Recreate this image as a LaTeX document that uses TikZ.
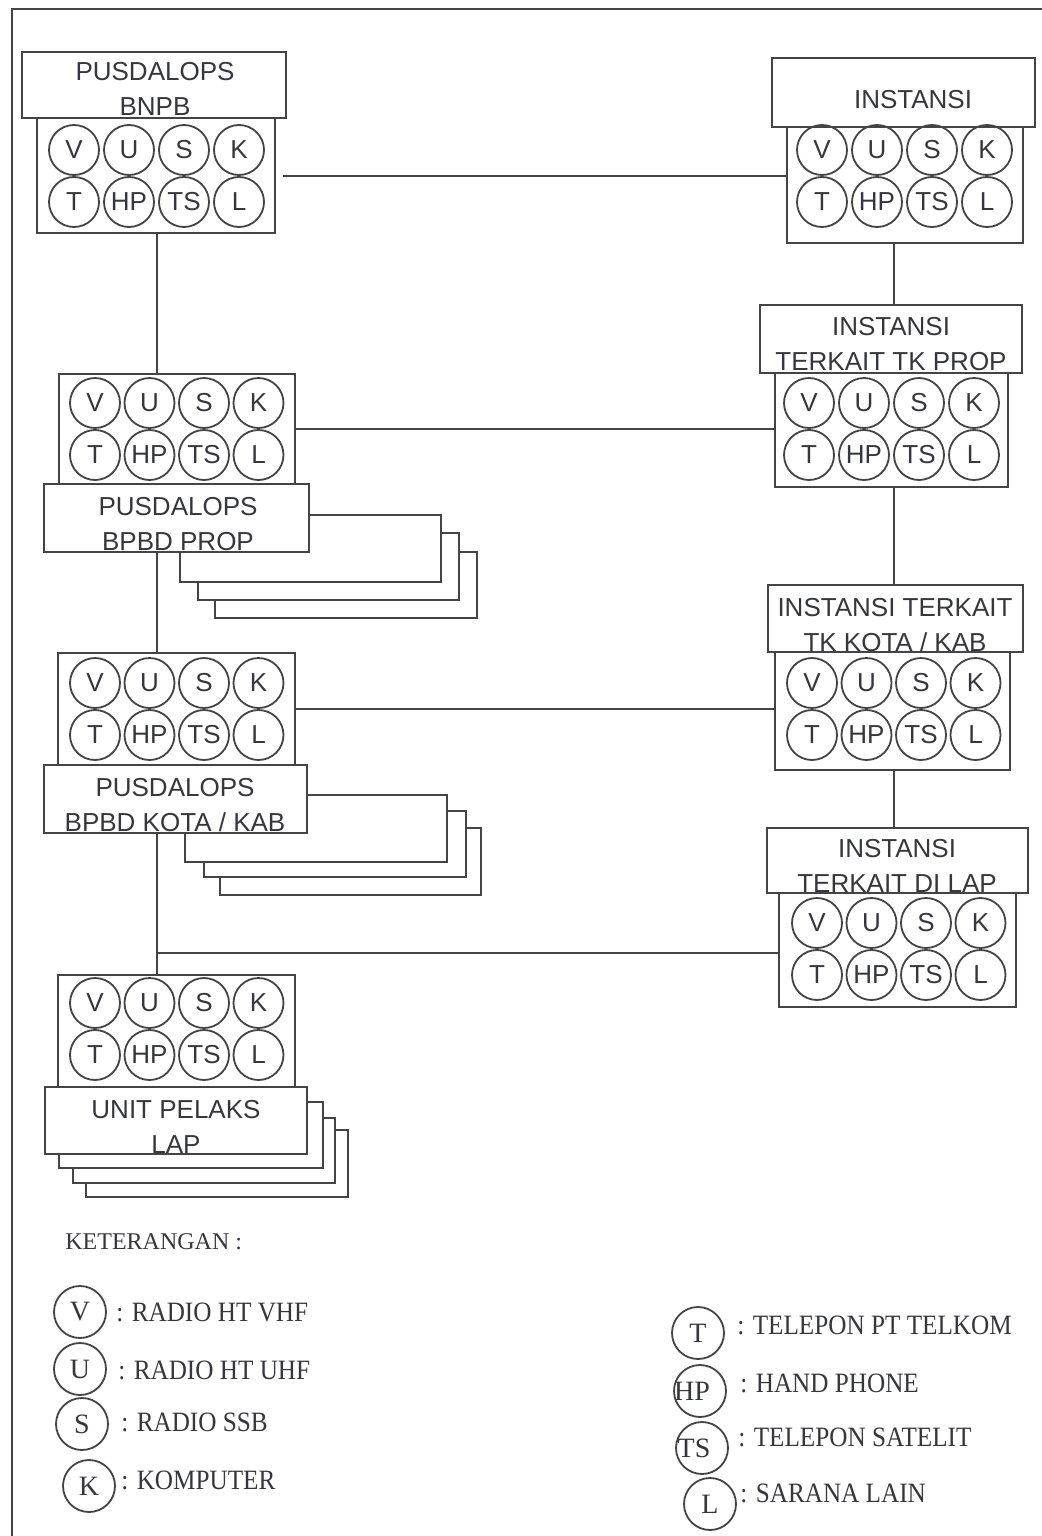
\documentclass[tikz,border=0pt]{standalone}
\usepackage{fontspec}
\setmainfont{Liberation Sans}
\newfontfamily\lgserif{Liberation Serif}
\usetikzlibrary{fit}
\definecolor{ln}{HTML}{444444}
\definecolor{tx}{HTML}{36363E}
\newcommand\mydevs[4]{%
  \foreach \l [count=\i from 0] in {V,U,S,K}{\node[dev] (#1-\l) at ({#2+\i*#4},{#3}) {\l};}
  \foreach \l [count=\i from 0] in {T,HP,TS,L}{\node[dev] (#1-\l) at ({#2+\i*#4},{#3+52}) {\l};}
}
\begin{document}
\begin{tikzpicture}[x=0.5pt,y=-0.5pt,
  box/.style={draw=ln, line width=1pt, fill=white, inner sep=0pt, outer sep=0pt},
  dev/.style={circle, draw=ln, line width=0.9pt, minimum size=25pt, inner sep=0pt, font=\fontsize{13}{15}\selectfont, text=tx},
  lbl/.style={align=center, font=\fontsize{13}{17.5}\selectfont, text=tx, inner sep=0pt},
  conn/.style={draw=ln, line width=1pt},
  frameline/.style={draw=ln, line width=1pt},
  stackbox/.style={draw=ln, line width=1pt, fill=white},
  ldev/.style={circle, draw=ln, line width=0.9pt, minimum size=26pt, inner sep=0pt, font=\lgserif\fontsize{14}{16}\selectfont, text=tx},
  ltxt/.style={anchor=west, inner sep=0pt, font=\lgserif\fontsize{14}{16}\selectfont, text=tx},
]
\useasboundingbox (0,0) rectangle (1042,1536);
\fill[white] (0,0) rectangle (1042,1536);
% frame
\draw[frameline] (12,1536) -- (12,9) -- (1042,9);

% BNPB
\node[box, fit={(22,52)(286,118)}] (bnpbBox) {};
\node[box, fit={(37,118)(275,233)}] (bnpbPanel) {};
\mydevs{bnpb}{74}{150}{55}
\node[lbl] (bnpbText) at (155,89) {PUSDALOPS\\BNPB};

% INSTANSI
\node[box, fit={(772,58)(1035,127)}] (instBox) {};
\node[box, fit={(787,127)(1023,243)}] (instPanel) {};
\mydevs{inst}{822}{150}{55}
\node[lbl] (instText) at (913,100) {INSTANSI};

% TK PROP
\node[box, fit={(760,305)(1022,373)}] (tkpBox) {};
\node[box, fit={(775,373)(1008,487)}] (tkpPanel) {};
\mydevs{tkp}{809}{403}{55}
\node[lbl] (tkpText) at (891,344) {INSTANSI\\TERKAIT TK PROP};

% BPBD PROP
\draw[stackbox] (215,552) rectangle (477,618);
\draw[stackbox] (198,533) rectangle (459,600);
\draw[stackbox] (180,515) rectangle (441,582);
\node[box, fit={(59,374)(295,484)}] (propPanel) {};
\node[box, fit={(44,484)(309,552)}] (propBox) {};
\mydevs{prop}{95}{403}{54.5}
\node[lbl] (propText) at (178,524) {PUSDALOPS\\BPBD PROP};

% BPBD KOTA / KAB
\draw[stackbox] (220,828) rectangle (481,895);
\draw[stackbox] (204,811) rectangle (466,877);
\draw[stackbox] (185,795) rectangle (447,862);
\node[box, fit={(58,653)(295,765)}] (kotaPanel) {};
\node[box, fit={(44,765)(307,833)}] (kotaBox) {};
\mydevs{kota}{95}{683}{54.5}
\node[lbl] (kotaText) at (175,805) {PUSDALOPS\\BPBD KOTA / KAB};

% TK KOTA / KAB
\node[box, fit={(768,585)(1023,652)}] (tkkBox) {};
\node[box, fit={(775,652)(1010,770)}] (tkkPanel) {};
\mydevs{tkk}{812}{683}{54.5}
\node[lbl] (tkkText) at (895,625) {INSTANSI TERKAIT\\TK KOTA / KAB};

% DI LAP
\node[box, fit={(767,828)(1028,893)}] (lapBox) {};
\node[box, fit={(779,893)(1016,1007)}] (lapPanel) {};
\mydevs{lap}{817}{923}{54.5}
\node[lbl] (lapText) at (897,866) {INSTANSI\\TERKAIT DI LAP};

% UNIT PELAKS
\draw[stackbox] (86,1130) rectangle (348,1197);
\draw[stackbox] (73,1118) rectangle (335,1183);
\draw[stackbox] (59,1102) rectangle (323,1168);
\node[box, fit={(58,975)(295,1087)}] (unitPanel) {};
\node[box, fit={(45,1087)(307,1154)}] (unitBox) {};
\mydevs{unit}{95}{1003}{54.5}
\node[lbl] (unitText) at (176,1127) {UNIT PELAKS\\LAP};

% connectors
\coordinate (lx) at (157,0);
\coordinate (rx) at (894,0);
\draw[conn] (bnpbPanel.south -| lx) -- (propPanel.north -| lx);
\draw[conn] (propBox.south -| lx) -- (kotaPanel.north -| lx);
\draw[conn] (kotaBox.south -| lx) -- (unitPanel.north -| lx);
\draw[conn] (instPanel.south -| rx) -- (tkpBox.north -| rx);
\draw[conn] (tkpPanel.south -| rx) -- (tkkBox.north -| rx);
\draw[conn] (tkkPanel.south -| rx) -- (lapBox.north -| rx);
\draw[conn] ([xshift=4pt]bnpbPanel.east) -- (bnpbPanel.east -| instPanel.west);
\draw[conn] (propPanel.east) -- (propPanel.east -| tkpPanel.west);
\draw[conn] (kotaPanel.east) -- (kotaPanel.east -| tkkPanel.west);
\coordinate (lapj) at (157,953);
\draw[conn] (lapj) -- (lapj -| lapPanel.west);

% legend
\node[ltxt, font=\lgserif\fontsize{12}{14}\selectfont] (keter) at (65,1242) {KETERANGAN :};
\node[ldev] (lgV) at (80,1312) {V};
\node[ltxt] (lgVt) at (116,1312) {\scalebox{0.9}[1]{: RADIO HT VHF}};
\node[ldev] (lgU) at (80,1369) {U};
\node[ltxt] (lgUt) at (118,1370) {\scalebox{0.9}[1]{: RADIO HT UHF}};
\node[ldev] (lgS) at (82,1424) {S};
\node[ltxt] (lgSt) at (121,1422) {\scalebox{0.9}[1]{: RADIO SSB}};
\node[ldev] (lgK) at (89,1486) {K};
\node[ltxt] (lgKt) at (121,1480) {\scalebox{0.9}[1]{: KOMPUTER}};

\node[ldev] (lgT) at (698,1333) {T};
\node[ltxt] (lgTt) at (737,1325) {\scalebox{0.9}[1]{: TELEPON PT TELKOM}};
\node[ldev] (lgHP) at (700,1391) {\hspace*{-8pt}HP};
\node[ltxt] (lgHPt) at (740,1383) {\scalebox{0.9}[1]{: HAND PHONE}};
\node[ldev] (lgTS) at (702,1448) {\hspace*{-8pt}TS};
\node[ltxt] (lgTSt) at (738,1437) {\scalebox{0.9}[1]{: TELEPON SATELIT}};
\node[ldev] (lgL) at (710,1504) {L};
\node[ltxt] (lgLt) at (740,1493) {\scalebox{0.9}[1]{: SARANA LAIN}};
\end{tikzpicture}
\end{document}
